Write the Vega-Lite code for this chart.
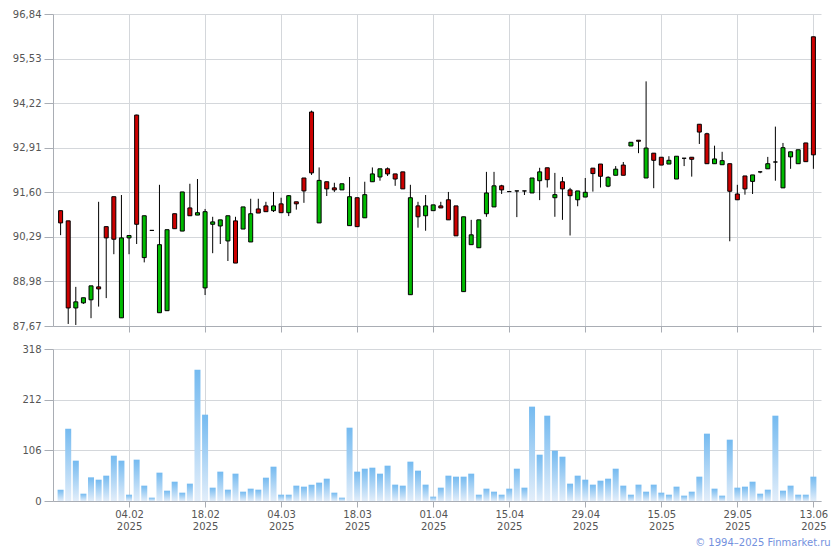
{
  "$schema": "https://vega.github.io/schema/vega-lite/v6.json",
  "padding": {"left": 5, "top": 9, "right": 10, "bottom": 2},
  "background": "white",
  "config": {
    "view": {"stroke": null},
    "font": "DejaVu Sans",
    "axis": {"labelFont": "DejaVu Sans", "labelFontSize": 10, "labelColor": "#555555", "gridColor": "#d4d7db", "domainColor": "#a9adb4", "tickColor": "#a9adb4", "title": null}
  },
  "title": {"text": "© 1994–2025 Finmarket.ru", "orient": "bottom", "anchor": "end", "fontSize": 10, "fontWeight": "normal", "color": "#7391de", "font": "DejaVu Sans", "offset": 7, "dx": 3},
  "spacing": 11,
  "datasets": {
    "q": [
      {"d":"2025-01-22","o":91.06,"h":91.06,"l":90.34,"c":90.70,"v":23.7},
      {"d":"2025-01-23","o":90.76,"h":90.76,"l":87.73,"c":88.20,"v":151.3},
      {"d":"2025-01-24","o":88.20,"h":88.82,"l":87.70,"c":88.38,"v":84.4},
      {"d":"2025-01-27","o":88.35,"h":88.50,"l":88.32,"c":88.50,"v":15.3},
      {"d":"2025-01-28","o":88.44,"h":88.85,"l":87.90,"c":88.85,"v":49.5},
      {"d":"2025-01-29","o":88.82,"h":91.32,"l":88.24,"c":88.76,"v":44.6},
      {"d":"2025-01-30","o":90.59,"h":90.59,"l":88.49,"c":90.26,"v":53.0},
      {"d":"2025-01-31","o":91.47,"h":91.47,"l":89.78,"c":90.22,"v":94.8},
      {"d":"2025-02-03","o":87.91,"h":91.52,"l":87.91,"c":90.26,"v":84.4},
      {"d":"2025-02-04","o":90.26,"h":90.33,"l":89.78,"c":90.33,"v":13.2},
      {"d":"2025-02-05","o":93.87,"h":93.88,"l":90.08,"c":90.66,"v":86.5},
      {"d":"2025-02-06","o":89.68,"h":90.91,"l":89.54,"c":90.91,"v":32.1},
      {"d":"2025-02-07","o":90.48,"h":90.48,"l":90.48,"c":90.48,"v":7.0},
      {"d":"2025-02-10","o":88.06,"h":91.82,"l":88.06,"c":90.06,"v":59.3},
      {"d":"2025-02-11","o":88.12,"h":90.50,"l":88.12,"c":90.50,"v":21.6},
      {"d":"2025-02-12","o":90.97,"h":90.97,"l":90.53,"c":90.53,"v":40.4},
      {"d":"2025-02-13","o":90.46,"h":91.61,"l":90.46,"c":91.61,"v":17.4},
      {"d":"2025-02-14","o":91.14,"h":91.85,"l":90.91,"c":90.91,"v":36.3},
      {"d":"2025-02-17","o":90.93,"h":91.99,"l":90.93,"c":91.00,"v":274.8},
      {"d":"2025-02-18","o":88.79,"h":91.11,"l":88.58,"c":91.03,"v":180.6},
      {"d":"2025-02-19","o":90.66,"h":90.88,"l":89.81,"c":90.73,"v":27.9},
      {"d":"2025-02-20","o":90.61,"h":90.79,"l":90.08,"c":90.79,"v":61.4},
      {"d":"2025-02-21","o":90.17,"h":90.91,"l":89.58,"c":90.91,"v":23.7},
      {"d":"2025-02-24","o":90.76,"h":90.88,"l":89.52,"c":89.52,"v":57.2},
      {"d":"2025-02-25","o":90.52,"h":91.17,"l":90.52,"c":91.17,"v":19.5},
      {"d":"2025-02-26","o":90.14,"h":91.41,"l":90.14,"c":90.97,"v":25.8},
      {"d":"2025-02-27","o":91.11,"h":91.41,"l":90.99,"c":90.99,"v":23.7},
      {"d":"2025-02-28","o":91.20,"h":91.32,"l":91.03,"c":91.03,"v":48.8},
      {"d":"2025-03-03","o":91.06,"h":91.61,"l":91.02,"c":91.20,"v":71.8},
      {"d":"2025-03-04","o":91.26,"h":91.44,"l":91.00,"c":91.00,"v":13.2},
      {"d":"2025-03-05","o":91.00,"h":91.52,"l":90.90,"c":91.50,"v":13.2},
      {"d":"2025-03-06","o":91.32,"h":91.32,"l":91.09,"c":91.26,"v":32.1},
      {"d":"2025-03-07","o":92.02,"h":92.02,"l":91.29,"c":91.64,"v":30.0},
      {"d":"2025-03-10","o":93.96,"h":94.00,"l":92.11,"c":92.17,"v":34.2},
      {"d":"2025-03-11","o":90.70,"h":92.33,"l":90.70,"c":91.95,"v":38.4},
      {"d":"2025-03-12","o":91.91,"h":91.91,"l":91.49,"c":91.70,"v":46.7},
      {"d":"2025-03-13","o":91.73,"h":91.88,"l":91.61,"c":91.67,"v":17.4},
      {"d":"2025-03-14","o":91.67,"h":91.85,"l":91.67,"c":91.85,"v":7.0},
      {"d":"2025-03-17","o":90.62,"h":92.05,"l":90.62,"c":91.47,"v":153.4},
      {"d":"2025-03-18","o":91.44,"h":91.44,"l":90.59,"c":90.59,"v":61.4},
      {"d":"2025-03-19","o":90.85,"h":91.91,"l":90.85,"c":91.53,"v":67.6},
      {"d":"2025-03-20","o":91.91,"h":92.33,"l":91.91,"c":92.14,"v":69.7},
      {"d":"2025-03-21","o":92.05,"h":92.29,"l":91.94,"c":92.29,"v":57.2},
      {"d":"2025-03-24","o":92.29,"h":92.33,"l":92.08,"c":92.14,"v":73.9},
      {"d":"2025-03-25","o":92.14,"h":92.14,"l":91.79,"c":91.99,"v":34.2},
      {"d":"2025-03-26","o":92.20,"h":92.20,"l":91.70,"c":91.70,"v":32.1},
      {"d":"2025-03-27","o":88.59,"h":91.82,"l":88.59,"c":91.44,"v":82.3},
      {"d":"2025-03-28","o":91.20,"h":91.32,"l":90.56,"c":90.88,"v":63.5},
      {"d":"2025-03-31","o":90.91,"h":91.52,"l":90.47,"c":91.20,"v":34.2},
      {"d":"2025-04-01","o":91.06,"h":91.23,"l":91.06,"c":91.23,"v":9.1},
      {"d":"2025-04-02","o":91.20,"h":91.32,"l":91.14,"c":91.14,"v":27.9},
      {"d":"2025-04-03","o":91.38,"h":91.61,"l":90.79,"c":90.79,"v":53.0},
      {"d":"2025-04-04","o":91.20,"h":91.20,"l":90.32,"c":90.32,"v":50.9},
      {"d":"2025-04-07","o":88.68,"h":90.88,"l":88.68,"c":90.88,"v":50.9},
      {"d":"2025-04-08","o":90.06,"h":90.79,"l":90.06,"c":90.35,"v":57.2},
      {"d":"2025-04-09","o":89.97,"h":90.79,"l":89.97,"c":90.79,"v":13.2},
      {"d":"2025-04-10","o":90.97,"h":92.20,"l":90.88,"c":91.58,"v":25.8},
      {"d":"2025-04-11","o":91.17,"h":92.20,"l":91.17,"c":91.79,"v":19.5},
      {"d":"2025-04-14","o":91.79,"h":91.82,"l":91.55,"c":91.67,"v":13.2},
      {"d":"2025-04-15","o":91.62,"h":91.62,"l":91.62,"c":91.62,"v":25.8},
      {"d":"2025-04-16","o":91.64,"h":91.64,"l":90.87,"c":91.64,"v":67.6},
      {"d":"2025-04-17","o":91.64,"h":91.64,"l":91.52,"c":91.64,"v":27.9},
      {"d":"2025-04-18","o":91.58,"h":92.02,"l":91.58,"c":92.02,"v":197.4},
      {"d":"2025-04-21","o":91.94,"h":92.32,"l":91.37,"c":92.20,"v":96.9},
      {"d":"2025-04-22","o":92.32,"h":92.32,"l":91.74,"c":91.97,"v":178.5},
      {"d":"2025-04-23","o":91.44,"h":92.17,"l":90.88,"c":91.53,"v":105.3},
      {"d":"2025-04-24","o":91.91,"h":92.05,"l":90.79,"c":91.70,"v":92.7},
      {"d":"2025-04-25","o":91.67,"h":91.73,"l":90.33,"c":91.50,"v":36.3},
      {"d":"2025-04-28","o":91.38,"h":91.64,"l":91.19,"c":91.64,"v":53.0},
      {"d":"2025-04-29","o":91.46,"h":92.02,"l":91.46,"c":91.60,"v":44.6},
      {"d":"2025-04-30","o":92.31,"h":92.31,"l":91.62,"c":92.15,"v":34.2},
      {"d":"2025-05-02","o":92.43,"h":92.43,"l":91.74,"c":92.07,"v":42.5},
      {"d":"2025-05-05","o":91.78,"h":92.07,"l":91.75,"c":92.04,"v":46.7},
      {"d":"2025-05-06","o":92.10,"h":92.37,"l":92.10,"c":92.28,"v":67.6},
      {"d":"2025-05-07","o":92.40,"h":92.49,"l":92.10,"c":92.10,"v":32.1},
      {"d":"2025-05-08","o":92.96,"h":93.07,"l":92.96,"c":93.07,"v":13.2},
      {"d":"2025-05-12","o":93.13,"h":93.13,"l":92.75,"c":93.10,"v":34.2},
      {"d":"2025-05-13","o":92.02,"h":94.86,"l":92.02,"c":92.90,"v":19.5},
      {"d":"2025-05-14","o":92.75,"h":92.75,"l":91.72,"c":92.54,"v":34.2},
      {"d":"2025-05-15","o":92.63,"h":92.63,"l":92.40,"c":92.40,"v":17.4},
      {"d":"2025-05-16","o":92.43,"h":92.66,"l":92.43,"c":92.54,"v":13.2},
      {"d":"2025-05-19","o":91.99,"h":92.66,"l":91.99,"c":92.66,"v":30.0},
      {"d":"2025-05-20","o":92.60,"h":92.60,"l":92.37,"c":92.60,"v":11.2},
      {"d":"2025-05-21","o":92.63,"h":92.63,"l":92.06,"c":92.57,"v":19.5},
      {"d":"2025-05-22","o":93.60,"h":93.60,"l":93.02,"c":93.37,"v":50.9},
      {"d":"2025-05-23","o":93.32,"h":93.35,"l":92.44,"c":92.44,"v":140.9},
      {"d":"2025-05-26","o":92.44,"h":92.97,"l":92.44,"c":92.58,"v":25.8},
      {"d":"2025-05-27","o":92.41,"h":92.79,"l":92.41,"c":92.53,"v":11.2},
      {"d":"2025-05-28","o":92.44,"h":92.44,"l":90.16,"c":91.63,"v":128.3},
      {"d":"2025-05-29","o":91.55,"h":91.82,"l":91.38,"c":91.38,"v":27.9},
      {"d":"2025-05-30","o":92.08,"h":92.08,"l":91.53,"c":91.70,"v":30.0},
      {"d":"2025-06-02","o":91.92,"h":92.11,"l":91.55,"c":92.11,"v":40.4},
      {"d":"2025-06-03","o":92.20,"h":92.20,"l":92.16,"c":92.20,"v":15.3},
      {"d":"2025-06-04","o":92.29,"h":92.64,"l":92.29,"c":92.44,"v":23.7},
      {"d":"2025-06-05","o":92.49,"h":93.53,"l":91.94,"c":92.49,"v":178.5},
      {"d":"2025-06-06","o":91.73,"h":93.05,"l":91.73,"c":92.91,"v":21.6},
      {"d":"2025-06-09","o":92.64,"h":92.79,"l":92.29,"c":92.79,"v":32.1},
      {"d":"2025-06-10","o":92.44,"h":92.85,"l":92.44,"c":92.85,"v":13.2},
      {"d":"2025-06-11","o":93.05,"h":93.05,"l":92.50,"c":92.50,"v":13.2},
      {"d":"2025-06-13","o":96.17,"h":96.17,"l":92.29,"c":92.70,"v":50.9}
    ]
  },
  "vconcat": [
    {
      "width": 768,
      "height": 312,
      "data": {"name": "q"},
      "encoding": {
        "x": {
          "field": "d", "type": "ordinal",
          "scale": {"type": "point", "padding": 1},
          "axis": {
            "values": ["2025-02-04","2025-02-18","2025-03-04","2025-03-18","2025-04-01","2025-04-15","2025-04-29","2025-05-15","2025-05-29","2025-06-13"],
            "labels": false, "ticks": true, "tickSize": 6, "grid": true, "domain": true
          }
        }
      },
      "layer": [
        {
          "mark": {"type": "rule", "color": "black", "strokeWidth": 1},
          "encoding": {
            "y": {
              "field": "l", "type": "quantitative",
              "scale": {"domain": [87.67, 96.84], "nice": false, "zero": false},
              "axis": {
                "values": [87.67, 88.98, 90.29, 91.6, 92.91, 94.22, 95.53, 96.84],
                "labelExpr": "replace(format(datum.value, '.2f'), '.', ',')",
                "tickSize": 9, "labelPadding": 3, "minExtent": 48, "maxExtent": 48, "grid": true
              }
            },
            "y2": {"field": "h"}
          }
        },
        {
          "mark": {"type": "bar", "width": 4, "stroke": "black", "strokeWidth": 1},
          "encoding": {
            "y": {"field": "o", "type": "quantitative"},
            "y2": {"field": "c"},
            "color": {"condition": {"test": "datum.c < datum.o", "value": "#cc0000"}, "value": "#00bb00"}
          }
        }
      ]
    },
    {
      "width": 768,
      "height": 152,
      "data": {"name": "q"},
      "mark": {
        "type": "bar", "width": 6,
        "color": {"gradient": "linear", "x1": 0, "y1": 0, "x2": 0, "y2": 1,
          "stops": [{"offset": 0, "color": "#74baf0"}, {"offset": 1, "color": "#e3eefa"}]}
      },
      "encoding": {
        "x": {
          "field": "d", "type": "ordinal",
          "scale": {"type": "point", "padding": 1},
          "axis": {
            "values": ["2025-02-04","2025-02-18","2025-03-04","2025-03-18","2025-04-01","2025-04-15","2025-04-29","2025-05-15","2025-05-29","2025-06-13"],
            "labelExpr": "[substring(datum.value, 8, 10) + '.' + substring(datum.value, 5, 7), substring(datum.value, 0, 4)]",
            "labelAngle": 0, "labelOverlap": false, "labelFlush": false, "labelBaseline": "top", "labelLineHeight": 12,
            "tickSize": 6, "labelPadding": 2, "grid": true
          }
        },
        "y": {
          "field": "v", "type": "quantitative",
          "scale": {"domain": [0, 318], "nice": false},
          "axis": {
            "values": [0, 106, 212, 318],
            "tickSize": 9, "labelPadding": 3, "minExtent": 48, "maxExtent": 48, "grid": true
          }
        }
      }
    }
  ]
}
